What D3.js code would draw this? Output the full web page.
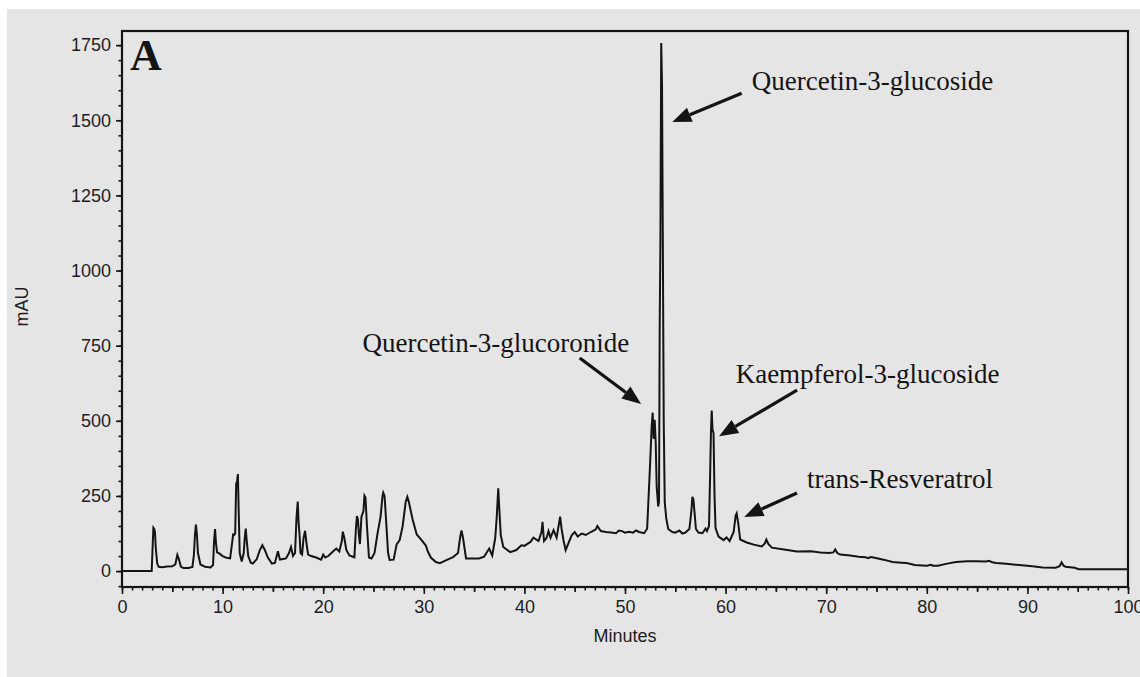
<!DOCTYPE html>
<html>
<head>
<meta charset="utf-8">
<script src="https://d3js.org/d3.v7.min.js"></script>
<style>
  body { margin: 0; background: #fff; }
  svg { display: block; }
</style>
</head>
<body>
<svg width="1140" height="677"></svg>
<script>
// chromatogram trace, [minutes, mAU] in pieces
const traceEarly = [
  [0,0],[2.95,0],[3.05,85],[3.12,144],[3.2,140],[3.28,128],[3.35,80],[3.5,25],[3.65,14],[4.0,13],[4.5,15],
  [5.0,16],[5.3,22],[5.5,54],[5.65,40],[5.85,15],[6.1,10],[6.6,10],[7.0,14],[7.15,55],[7.25,120],[7.35,155],
  [7.45,120],[7.55,60],[7.8,22],[8.25,14],[8.8,12],[9.05,20],[9.15,100],[9.25,140],[9.35,90],[9.45,62],
  [9.7,58],[10.0,50],[10.4,44],[10.75,42],[10.95,95],[11.05,122],[11.15,120],[11.25,125],[11.35,290],
  [11.45,300],[11.52,323],[11.6,200],[11.7,60],[11.9,32],[12.1,60],[12.2,110],[12.3,141],[12.4,100],
  [12.55,50],[12.8,28],[13.0,25],[13.4,40],[13.7,70],[13.95,86],[14.2,70],[14.5,45],[14.9,25],[15.2,27],
  [15.5,66],[15.7,38],[16.0,40],[16.3,42],[16.6,60],[16.8,80],[17.0,50],[17.2,60],[17.35,180],[17.47,231],
  [17.55,165],[17.65,120],[17.75,60],[17.9,55],[18.05,110],[18.2,134],[18.35,90],[18.5,55],[18.8,50],
  [19.3,45],[19.8,38],[20.0,55],[20.2,45],[20.5,50]
];
const traceMid = [
  [21.0,66],[21.3,75],[21.6,65],[21.85,100],[21.95,131],[22.1,110],[22.3,70],[22.6,52],[23.1,46],[23.25,140],
  [23.35,183],[23.45,172],[23.55,120],[23.65,90],[23.8,180],[24.0,200],[24.1,251],[24.2,245],[24.35,150],
  [24.55,45],[24.8,42],[25.1,60],[25.4,125],[25.7,180],[25.9,250],[25.97,261],[26.1,250],[26.25,170],
  [26.45,60],[26.6,37],[27.0,38],[27.3,89],[27.6,103],[27.9,150],[28.2,230],[28.36,247],[28.5,232],
  [28.9,170],[29.3,122],[29.8,102],[30.2,85],[30.4,65],[30.7,45],[31.2,30],[31.6,26],[32.3,37],[32.9,46],
  [33.4,60],[33.6,110],[33.75,135],[33.9,110],[34.2,42],[35.0,42],[35.5,42],[36.0,48],[36.5,75],[36.8,52],
  [37.1,110],[37.25,180],[37.4,275],[37.5,210],[37.65,120],[37.9,80],[38.6,63],[39.2,70],[39.7,86],[40.0,84]
];
const traceFlavonols = [
  [40.6,97],[40.9,111],[41.4,100],[41.7,130],[41.8,164],[41.95,100],[42.2,110],[42.4,133],[42.6,111],
  [42.9,136],[43.2,111],[43.45,160],[43.55,181],[43.7,140],[43.9,100],[44.1,70],[44.4,95],[44.7,119],
  [45.0,130],[45.3,115],[45.7,125],[46.1,120],[46.6,130],[47.1,139],[47.25,150],[47.6,133],[48.1,130],
  [48.6,128],[49.1,126],[49.4,135],[49.7,133],[50.0,128],[50.4,131],[50.8,128],[51.1,135],[51.4,130],
  [51.9,126],[52.2,141],[52.35,250],[52.5,360],[52.65,480],[52.75,527],[52.85,440],[52.95,503],[53.05,430],
  [53.15,280],[53.3,215],[53.38,230],[53.45,810],[53.52,1100],[53.6,1757],[53.68,1620],[53.76,1100],
  [53.85,500],[53.95,230],[54.1,175],[54.3,140],[54.7,130],[55.0,128],[55.4,135],[55.7,125],[56.0,128],
  [56.4,140],[56.6,200],[56.7,247],[56.8,238],[56.9,200],[57.05,140],[57.3,128],[57.7,126],[58.0,141],
  [58.15,133],[58.35,150],[58.45,300],[58.55,470],[58.62,534],[58.7,470],[58.8,460],[58.9,250],[59.0,143],
  [59.3,115],[59.8,103],[60.1,112],[60.4,100],[60.8,130],[61.0,185],[61.1,192],[61.25,160],[61.45,105],
  [62.1,95],[62.8,88],[63.6,82],[63.9,92],[64.05,105],[64.25,90],[64.6,78],[65.8,72],[67.1,65]
];
const traceLate = [
  [68.5,66],[69.4,62],[70.3,60],[70.7,62],[70.9,72],[71.1,60],[71.4,55],[72.4,52],[73.2,48],[73.9,46],
  [74.2,43],[74.4,47],[74.7,45],[75.7,38],[76.6,30],[77.5,28],[78.0,27],[78.8,20],[80.0,18],[80.4,21],
  [80.6,18],[81.1,18],[81.9,24],[82.9,30],[84.0,33],[84.9,33],[85.9,32],[86.2,34],[86.5,29],[86.9,27],
  [87.9,24],[89.2,20],[90.5,16],[91.5,12],[92.8,11],[93.2,16],[93.4,29],[93.6,18],[93.8,14],[94.7,11],
  [95.1,6],[100,6]
];

const yMajorTicks = [0, 250, 500, 750, 1000, 1250, 1500, 1750];
const xMajorTicks = [0, 10, 20, 30, 40, 50, 60, 70, 80, 90, 100];

// peak labels: text anchor and arrow start/tip, all in [minutes, mAU]
const peakNames = ["Quercetin-3-glucoside", "Quercetin-3-glucoronide", "Kaempferol-3-glucoside", "trans-Resveratrol"];
const labelAt = [[62.6,1600],[23.9,729],[61.0,625],[68.1,276]];
const arrowFrom = [[61.6,1590],[45.5,709],[67.1,602],[67.1,260]];
const arrowTo = [[54.7,1494],[51.6,556],[59.35,449],[61.85,180]];

const svg = d3.select("svg");

svg.append("rect")
  .attr("x", 7).attr("y", 9)
  .attr("width", 1133).attr("height", 668)
  .attr("fill", "#e5e5e5");

const x = d3.scaleLinear().domain([0, 100]).range([122, 1128]);
const y = d3.scaleLinear().domain([-53, 1797]).range([587, 31]);

const ink = "#141414";
const sans = "'Liberation Sans', Arial, sans-serif";
const serif = "'Liberation Serif', 'Times New Roman', serif";

// minor ticks first, majors over them
function styleAxis(g) {
  g.select(".domain").remove();
  g.selectAll(".tick line").attr("stroke", ink).attr("stroke-width", 1.6);
  g.selectAll(".tick text").attr("fill", "#1e1e1e").style("font-family", sans).style("font-size", "18px");
}

svg.append("g").attr("transform", "translate(122,0)")
  .call(d3.axisLeft(y).tickValues(d3.range(-50, 1800, 50)).tickSize(3.5).tickFormat(""))
  .call(styleAxis);
svg.append("g").attr("transform", "translate(122,0)")
  .call(d3.axisLeft(y).tickValues(yMajorTicks).tickSize(6).tickPadding(5).tickFormat(d3.format("d")))
  .call(styleAxis);

svg.append("g").attr("transform", "translate(0,587)")
  .call(d3.axisBottom(x).tickValues(d3.range(0, 101, 1)).tickSize(3.5).tickFormat(""))
  .call(styleAxis);
svg.append("g").attr("transform", "translate(0,587)")
  .call(d3.axisBottom(x).tickValues(d3.range(5, 100, 10)).tickSize(5).tickFormat(""))
  .call(styleAxis);
svg.append("g").attr("transform", "translate(0,587)")
  .call(d3.axisBottom(x).tickValues(xMajorTicks).tickSize(7).tickPadding(6).tickFormat(d3.format("d")))
  .call(styleAxis);

// frame
svg.append("rect")
  .attr("x", x(0)).attr("y", y(1797))
  .attr("width", x(100) - x(0)).attr("height", y(-53) - y(1797))
  .attr("fill", "none").attr("stroke", ink).attr("stroke-width", 2.2);

// trace
const trace = traceEarly.concat(traceMid, traceFlavonols, traceLate);
svg.append("path")
  .datum(trace)
  .attr("fill", "none")
  .attr("stroke", ink)
  .attr("stroke-width", 2)
  .attr("stroke-linejoin", "miter")
  .attr("d", d3.line().x(d => x(d[0])).y(d => y(d[1])));

// axis titles
svg.append("text")
  .attr("x", (x(0) + x(100)) / 2).attr("y", 642)
  .attr("text-anchor", "middle")
  .style("font-family", sans).style("font-size", "18px").attr("fill", "#1e1e1e")
  .text("Minutes");

svg.append("text")
  .attr("transform", "translate(28," + y(880) + ") rotate(-90)")
  .attr("text-anchor", "middle")
  .style("font-family", sans).style("font-size", "18px").attr("fill", "#1e1e1e")
  .text("mAU");

// panel letter
svg.append("text")
  .attr("x", 130).attr("y", 70)
  .style("font-family", serif).style("font-size", "44px").style("font-weight", "bold")
  .attr("fill", ink)
  .text("A");

// annotations
const notes = svg.append("g");
peakNames.forEach((name, i) => {
  notes.append("text")
    .attr("x", x(labelAt[i][0])).attr("y", y(labelAt[i][1]))
    .style("font-family", serif).style("font-size", "27px")
    .attr("fill", ink)
    .text(name);

  const x0 = x(arrowFrom[i][0]), y0 = y(arrowFrom[i][1]);
  const x1 = x(arrowTo[i][0]), y1 = y(arrowTo[i][1]);
  const ang = Math.atan2(y1 - y0, x1 - x0);
  const headLen = 19, headHalf = 7.5;
  const bx = x1 - headLen * Math.cos(ang), by = y1 - headLen * Math.sin(ang);

  notes.append("line")
    .attr("x1", x0).attr("y1", y0).attr("x2", bx).attr("y2", by)
    .attr("stroke", ink).attr("stroke-width", 3.2);

  notes.append("polygon")
    .attr("points", [
      [x1, y1],
      [bx + headHalf * Math.sin(ang), by - headHalf * Math.cos(ang)],
      [bx - headHalf * Math.sin(ang), by + headHalf * Math.cos(ang)]
    ].map(p => p.join(",")).join(" "))
    .attr("fill", ink);
});
</script>
</body>
</html>
